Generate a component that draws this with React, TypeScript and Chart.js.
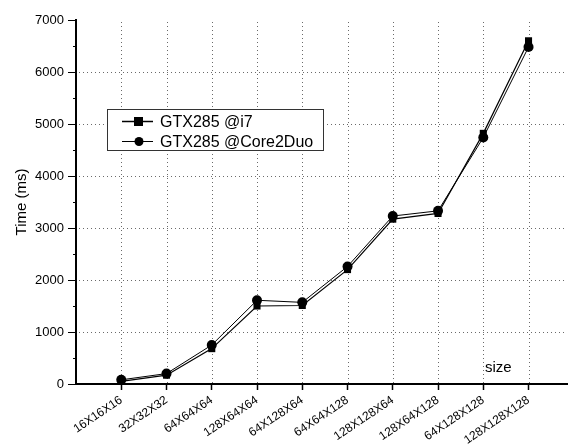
import { useEffect, useRef } from 'react';
import { Chart, registerables } from 'chart.js';

Chart.register(...registerables);

const categories = [
  '16X16X16',
  '32X32X32',
  '64X64X64',
  '128X64X64',
  '64X128X64',
  '64X64X128',
  '128X128X64',
  '128X64X128',
  '64X128X128',
  '128X128X128',
];
const i7Times = [50, 170, 680, 1500, 1510, 2200, 3170, 3280, 4820, 6600];
const core2DuoTimes = [80, 200, 750, 1610, 1570, 2260, 3230, 3330, 4740, 6480];
const yTickValues = [0, 1000, 2000, 3000, 4000, 5000, 6000, 7000];
const yMinorTickValues = [500, 1500, 2500, 3500, 4500, 5500, 6500];
const seriesNames = ['GTX285 @i7', 'GTX285 @Core2Duo'];
const xAxisLabel = 'size';
const yAxisLabel = 'Time (ms)';

const FONT = "'Liberation Sans', Arial, Helvetica, sans-serif";

const dottedGridPlugin = {
  id: 'dottedGrid',
  beforeDatasetsDraw(chart: any) {
    const { ctx, chartArea } = chart;
    const xScale = chart.scales.x;
    const yScale = chart.scales.y;
    ctx.save();
    ctx.fillStyle = '#6a6a6a';
    for (let i = 0; i < categories.length; i++) {
      const px = Math.round(xScale.getPixelForValue(i + 1));
      for (let y = Math.round(chartArea.top) + 2; y < chartArea.bottom - 1; y += 4) {
        ctx.fillRect(px, y, 1, 1);
      }
    }
    for (const v of yTickValues) {
      if (v === 0 || v === 7000) continue;
      const py = Math.round(yScale.getPixelForValue(v));
      for (let x = Math.round(chartArea.left) + 3; x < chartArea.right; x += 4) {
        ctx.fillRect(x, py, 1, 1);
      }
    }
    ctx.restore();
  },
};

const overlayPlugin = {
  id: 'overlay',
  afterDraw(chart: any) {
    const { ctx, chartArea } = chart;
    const yScale = chart.scales.y;
    ctx.save();
    // minor ticks on y axis
    ctx.strokeStyle = '#000';
    ctx.lineWidth = 1;
    for (const v of yMinorTickValues) {
      const py = Math.round(yScale.getPixelForValue(v)) + 0.5;
      ctx.beginPath();
      ctx.moveTo(chartArea.left - 3, py);
      ctx.lineTo(chartArea.left, py);
      ctx.stroke();
    }
    // "size" label
    ctx.fillStyle = '#000';
    ctx.font = `15px ${FONT}`;
    ctx.textBaseline = 'alphabetic';
    ctx.textAlign = 'left';
    ctx.fillText(xAxisLabel, chartArea.right - 82, chartArea.bottom - 12);

    // legend
    const lx = chartArea.left + 31;
    const ly = chartArea.top + 89;
    const lw = 216;
    const lh = 41;
    ctx.fillStyle = '#fff';
    ctx.fillRect(lx, ly, lw, lh);
    ctx.strokeStyle = '#333';
    ctx.lineWidth = 1;
    ctx.strokeRect(lx + 0.5, ly + 0.5, lw, lh);
    const rows = [ly + 12.5, ly + 32.5];
    rows.forEach((ry, i) => {
      ctx.strokeStyle = '#000';
      ctx.lineWidth = i === 0 ? 1.5 : 1;
      ctx.beginPath();
      ctx.moveTo(lx + 15, ry);
      ctx.lineTo(lx + 46, ry);
      ctx.stroke();
      ctx.fillStyle = '#000';
      if (i === 0) {
        ctx.fillRect(lx + 27, ry - 4.5, 9, 9);
      } else {
        ctx.beginPath();
        ctx.arc(lx + 32, ry, 4.5, 0, Math.PI * 2);
        ctx.fill();
      }
      ctx.font = `16px ${FONT}`;
      ctx.textBaseline = 'middle';
      ctx.fillText(seriesNames[i], lx + 53, ry + 1);
    });
    ctx.restore();
  },
};

export default function App() {
  const canvasRef = useRef<HTMLCanvasElement | null>(null);

  useEffect(() => {
    if (!canvasRef.current) return;
    const chart = new Chart(canvasRef.current, {
      type: 'line',
      data: {
        datasets: [
          {
            label: seriesNames[0],
            data: i7Times.map((y, i) => ({ x: i + 1, y })),
            borderColor: '#000',
            backgroundColor: '#000',
            borderWidth: 1.2,
            pointStyle: 'rect',
            pointRadius: 5,
            pointBorderWidth: 0,
            tension: 0,
          },
          {
            label: seriesNames[1],
            data: core2DuoTimes.map((y, i) => ({ x: i + 1, y })),
            borderColor: '#000',
            backgroundColor: '#000',
            borderWidth: 1,
            pointStyle: 'circle',
            pointRadius: 5,
            pointBorderWidth: 0,
            tension: 0,
          },
        ],
      },
      options: {
        animation: false,
        responsive: true,
        maintainAspectRatio: false,
        layout: { padding: { top: 20, right: 0, left: 0, bottom: 0 } },
        plugins: {
          legend: { display: false },
          tooltip: { enabled: false },
        },
        scales: {
          x: {
            type: 'linear',
            min: 0,
            max: 10.85,
            afterBuildTicks: (scale: any) => {
              scale.ticks = categories.map((_, i) => ({ value: i + 1 }));
            },
            afterFit: (scale: any) => {
              scale.height = 62;
            },
            ticks: {
              autoSkip: false,
              minRotation: 34,
              maxRotation: 34,
              padding: 3,
              color: '#000',
              font: { family: FONT, size: 12 },
              callback: (v: any) => categories[Number(v) - 1] ?? '',
            },
            grid: {
              drawOnChartArea: false,
              color: '#000',
              lineWidth: 1,
              tickColor: '#000',
              tickLength: 6,
              tickWidth: 1.5,
            },
            border: { display: true, color: '#000', width: 2 },
          },
          y: {
            type: 'linear',
            min: 0,
            max: 7000,
            afterBuildTicks: (scale: any) => {
              scale.ticks = yTickValues.map((value) => ({ value }));
            },
            afterFit: (scale: any) => {
              scale.width = 76;
            },
            ticks: {
              padding: 4,
              color: '#000',
              font: { family: FONT, size: 13 },
              callback: (v: any) => String(v),
            },
            grid: {
              drawOnChartArea: false,
              color: '#000',
              lineWidth: 1,
              tickColor: '#000',
              tickLength: 8,
              tickWidth: 1,
            },
            border: { display: true, color: '#000', width: 2 },
            title: {
              display: true,
              text: yAxisLabel,
              color: '#000',
              font: { family: FONT, size: 15 },
              padding: { top: 13, bottom: 0 },
            },
          },
        },
      },
      plugins: [dottedGridPlugin, overlayPlugin],
    });
    return () => chart.destroy();
  }, []);

  return (
    <div style={{ position: 'fixed', left: 0, top: 0, width: 572, height: 446, background: '#fff' }}>
      <canvas ref={canvasRef} />
    </div>
  );
}
